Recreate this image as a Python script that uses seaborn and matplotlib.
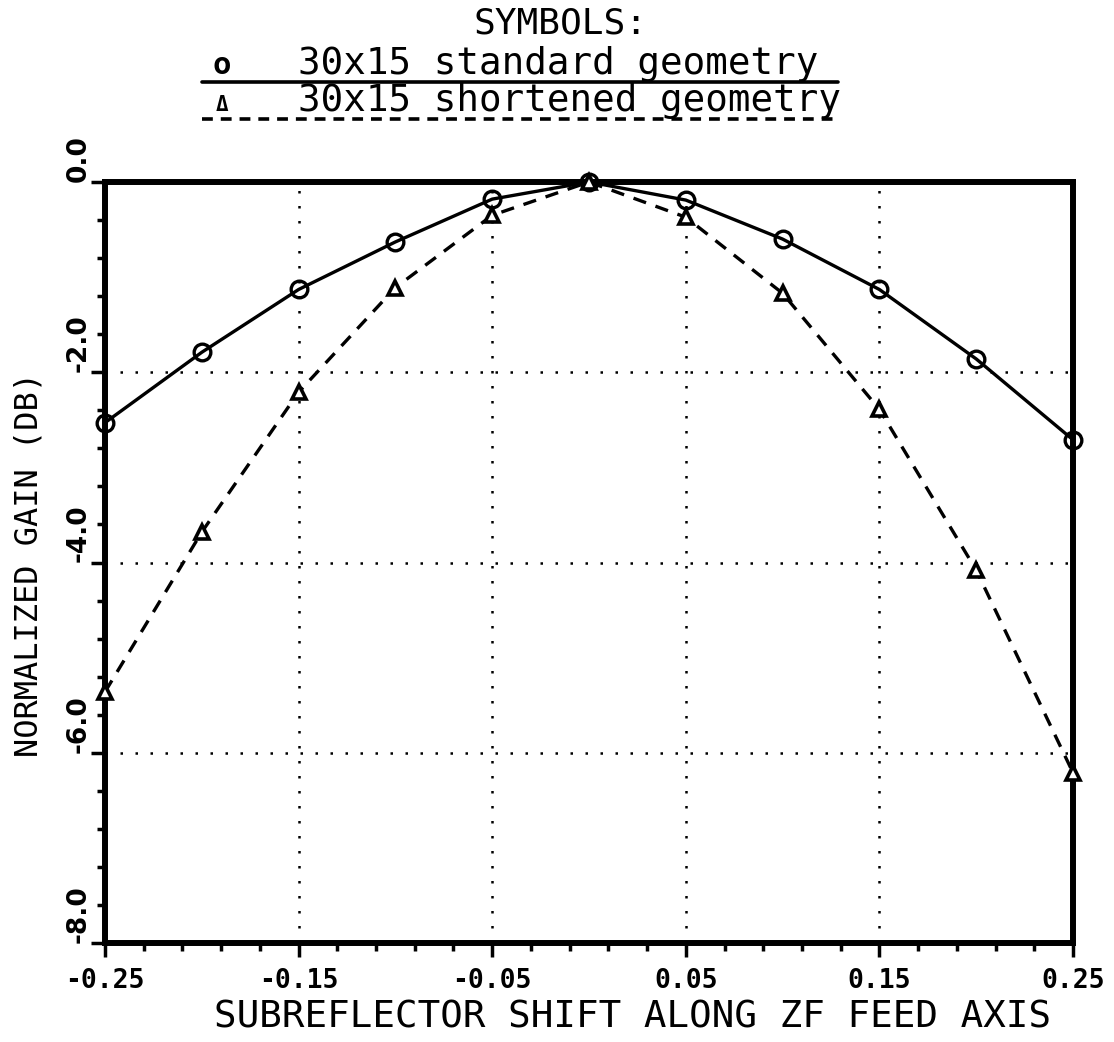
import numpy as np
import pandas as pd
import matplotlib
matplotlib.use("Agg")
import matplotlib.pyplot as plt
from matplotlib.ticker import FixedLocator, MultipleLocator
from matplotlib.lines import Line2D
import seaborn as sns

# ---- data ----
shift = [-0.25, -0.20, -0.15, -0.10, -0.05, 0.0, 0.05, 0.10, 0.15, 0.20, 0.25]
gain_standard = [-2.53, -1.79, -1.13, -0.63, -0.18, 0.0, -0.19, -0.60, -1.13, -1.86, -2.71]
gain_shortened = [-5.36, -3.68, -2.21, -1.11, -0.35, 0.0, -0.37, -1.17, -2.39, -4.08, -6.21]
xtick_vals = [-0.25, -0.15, -0.05, 0.05, 0.15, 0.25]
xtick_labels = ["-0.25", "-0.15", "-0.05", "0.05", "0.15", "0.25"]
ytick_vals = [0.0, -2.0, -4.0, -6.0, -8.0]
ytick_labels = ["0.0", "-2.0", "-4.0", "-6.0", "-8.0"]
title_text = "SYMBOLS:"
legend_standard = "30x15 standard geometry"
legend_shortened = "30x15 shortened geometry"
xlabel = "SUBREFLECTOR SHIFT ALONG ZF FEED AXIS"
ylabel = "NORMALIZED GAIN (DB)"

df_std = pd.DataFrame({"x": shift, "y": gain_standard})
df_sh = pd.DataFrame({"x": shift, "y": gain_shortened})

sns.set_theme(style="white")
plt.rcParams["font.family"] = ["DejaVu Sans Mono", "DejaVu Sans"]
plt.rcParams["font.weight"] = "bold"

W, H = 1114, 1042
fig = plt.figure(figsize=(W / 100, H / 100), dpi=100)
ax = fig.add_axes([105 / W, 1 - 943 / H, (1073 - 105) / W, (943 - 182) / H])

sns.lineplot(data=df_std, x="x", y="y", ax=ax, color="black", linewidth=2.4,
             marker="o", markersize=12, markerfacecolor="none",
             markeredgecolor="black", markeredgewidth=2.4, clip_on=False, zorder=5)
sns.lineplot(data=df_sh, x="x", y="y", ax=ax, color="black", linewidth=2.4,
             linestyle=(0, (4, 3)), marker="^", markersize=10, markerfacecolor="white",
             markeredgecolor="black", markeredgewidth=2.6, clip_on=False, zorder=5)

ax.set_xlim(-0.25, 0.25)
ax.set_ylim(-8.0, 0.0)

ax.xaxis.set_major_locator(FixedLocator(xtick_vals))
ax.set_xticklabels(xtick_labels)
ax.xaxis.set_minor_locator(FixedLocator(list(np.round(np.arange(-0.25, 0.2501, 0.02), 3))))
ax.yaxis.set_major_locator(FixedLocator(ytick_vals))
ax.set_yticklabels(ytick_labels, rotation=90, va="bottom", ha="center")
ax.yaxis.set_minor_locator(MultipleLocator(0.4))

ax.tick_params(axis="x", which="major", direction="out", length=10, width=2.5,
               labelsize=19, color="black", labelcolor="black", pad=8)
ax.tick_params(axis="y", which="major", direction="out", length=10, width=2.5,
               labelsize=19, color="black", labelcolor="black", pad=9)
ax.tick_params(axis="both", which="minor", direction="out", length=6, width=2.5,
               color="black")
ax.tick_params(axis="x", which="both", bottom=True, top=False)
ax.tick_params(axis="y", which="both", left=True, right=False)
for lab in ax.get_yticklabels():
    lab.set_fontfamily(["DejaVu Sans", "DejaVu Sans Mono"])
    lab.set_fontweight("bold")

# grid lines (dotted) only at interior positions
for gx in [-0.15, -0.05, 0.05, 0.15]:
    ax.axvline(gx, color="black", linestyle=(0, (1, 5)), linewidth=1.8, zorder=1)
for gy in [-2.0, -4.0, -6.0]:
    ax.axhline(gy, color="black", linestyle=(0, (1, 5)), linewidth=1.8, zorder=1)
ax.grid(False)

for s in ax.spines.values():
    s.set_visible(True)
    s.set_color("black")
    s.set_linewidth(4.3)

ax.set_xlabel(xlabel, fontsize=27, color="black", fontweight="normal")
ax.xaxis.set_label_coords(0.545, -0.074)
ax.set_ylabel(ylabel, fontsize=23, color="black", fontweight="normal")
ax.yaxis.set_label_coords(-0.062, 0.497)

# header legend
fig.text(560 / W, 1 - 33 / H, title_text, ha="center", va="baseline", fontsize=26,
         color="black", fontweight="normal")
fig.text(222 / W, 1 - 74 / H, "o", ha="center", va="baseline", fontsize=22,
         color="black")
fig.text(298 / W, 1 - 74 / H, legend_standard, ha="left", va="baseline", fontsize=27,
         color="black", fontweight="normal")
fig.text(222 / W, 1 - 111 / H, "\u0394", ha="center", va="baseline", fontsize=15,
         color="black")
fig.text(298 / W, 1 - 111 / H, legend_shortened, ha="left", va="baseline", fontsize=27,
         color="black", fontweight="normal")
fig.add_artist(Line2D([202 / W, 838 / W], [1 - 82 / H, 1 - 82 / H], color="black",
                      linewidth=2.6, transform=fig.transFigure))
fig.add_artist(Line2D([202 / W, 838 / W], [1 - 119 / H, 1 - 119 / H], color="black",
                      linewidth=2.6, linestyle=(0, (3, 2.2)), transform=fig.transFigure))

fig.savefig("out.png", dpi=100, facecolor="white")
